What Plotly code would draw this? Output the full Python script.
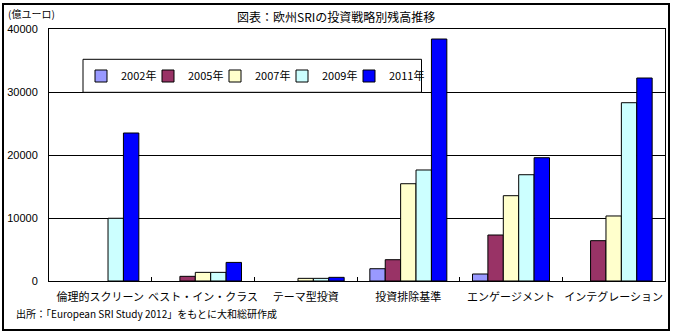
import plotly.graph_objects as go

categories = ["倫理的スクリーン", "ベスト・イン・クラス", "テーマ型投資", "投資排除基準", "エンゲージメント", "インテグレーション"]
years = ["2002年", "2005年", "2007年", "2009年", "2011年"]
v2002 = [None, None, None, 1950, 1110, None]
v2005 = [None, 740, None, 3380, 7300, 6400]
v2007 = [None, 1370, 420, 15440, 13540, 10320]
v2009 = [9960, 1370, 420, 17620, 16870, 28300]
v2011 = [23490, 2950, 580, 38410, 19570, 32220]
series = [v2002, v2005, v2007, v2009, v2011]
colors = ["#9999FF", "#993366", "#FFFFCC", "#CCFFFF", "#0000FF"]
y_ticks = [0, 10000, 20000, 30000, 40000]

FONT = "Noto Sans CJK JP"

fig = go.Figure()
for i, (name, vals, col) in enumerate(zip(years, series, colors)):
    fig.add_trace(go.Bar(
        x=categories, y=vals, name=name,
        marker=dict(color=col, line=dict(color="black", width=1)),
        legendwidth=(40 if i == len(years) - 1 else 22),
    ))

W, H = 675, 336
L, R, T, B = 49, 10, 29, 55
pw, ph = W - L - R, H - T - B

def px(x):
    return (x - L) / pw

def py(y):
    return (H - B - y) / ph

fig.update_layout(
    width=W, height=H,
    margin=dict(l=L, r=R, t=T, b=B, pad=0, autoexpand=False),
    paper_bgcolor="white", plot_bgcolor="white",
    barmode="group", bargap=0.25, bargroupgap=0,
    font=dict(family=FONT, size=11, color="black"),
    showlegend=True,
    legend=dict(
        orientation="h", x=px(81), y=py(76), xanchor="left", yanchor="middle",
        bgcolor="rgba(0,0,0,0)", borderwidth=0,
        font=dict(family=FONT, size=11), itemwidth=30,
        entrywidthmode="pixels",
        traceorder="normal",
    ),
    xaxis=dict(
        showgrid=False, showline=True, mirror=True, linecolor="black", linewidth=1,
        ticks="inside", tickson="boundaries", ticklen=4, tickcolor="black",
        tickangle=0, automargin=False,
        tickfont=dict(family=FONT, size=11), ticklabelstandoff=6,
    ),
    yaxis=dict(
        range=[0, 40000], tickvals=y_ticks, ticktext=[str(v) for v in y_ticks],
        showgrid=True, gridcolor="black", gridwidth=1, automargin=False,
        showline=True, mirror=True, linecolor="black", linewidth=1,
        ticks="", tickfont=dict(family="Liberation Sans", size=11), ticklabelstandoff=8,
        zeroline=False,
    ),
    shapes=[
        dict(type="rect", xref="paper", yref="paper",
             x0=px(3), x1=px(669), y0=py(330), y1=py(4),
             line=dict(color="black", width=2), fillcolor="rgba(0,0,0,0)", layer="above"),
        dict(type="rect", xref="paper", yref="paper",
             x0=px(83), x1=px(421.5), y0=py(92.3), y1=py(59.3),
             line=dict(color="black", width=1), fillcolor="white", layer="above"),
    ],
    annotations=[
        dict(text="図表：欧州SRIの投資戦略別残高推移", xref="paper", yref="paper",
             x=px(335.5), y=py(17), xanchor="center", yanchor="middle", showarrow=False,
             font=dict(family=FONT, size=12)),
        dict(text="(億ユーロ)", xref="paper", yref="paper",
             x=px(6), y=py(14), xanchor="left", yanchor="middle", showarrow=False,
             font=dict(family=FONT, size=10)),
        dict(text="出所：「European SRI Study 2012」をもとに大和総研作成", xref="paper", yref="paper",
             x=px(14), y=py(313), xanchor="left", yanchor="middle", showarrow=False,
             font=dict(family=FONT, size=10)),
    ],
)

fig.write_html("out.html")
